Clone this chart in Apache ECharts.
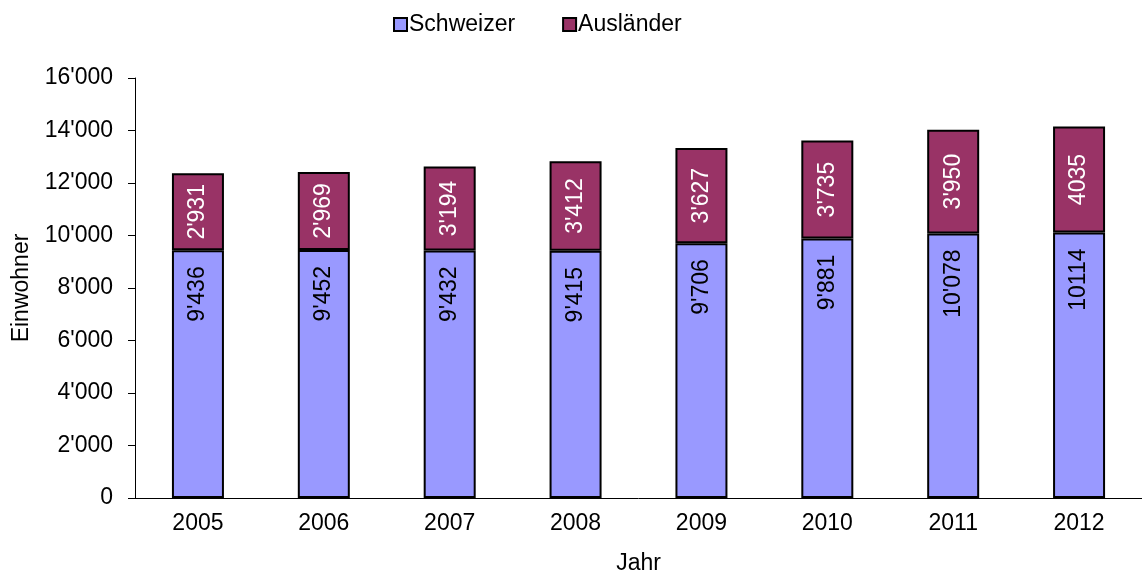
<!DOCTYPE html>
<html>
<head>
<meta charset="utf-8">
<script src="https://cdn.jsdelivr.net/npm/echarts@6/dist/echarts.min.js"></script>
<style>
  html, body { margin: 0; padding: 0; background: #fff; }
  #chart { width: 1142px; height: 577px; }
</style>
</head>
<body>
<div id="chart"></div>
<script>
// Einwohner nach Herkunft, 2005–2012
var years = ["2005", "2006", "2007", "2008", "2009", "2010", "2011", "2012"];
var schweizer = [9436, 9452, 9432, 9415, 9706, 9881, 10078, 10114];
var auslaender = [2931, 2969, 3194, 3412, 3627, 3735, 3950, 4035];
// labels as printed in the source (2012 has no thousands separator)
var schweizerLabels = ["9'436", "9'452", "9'432", "9'415", "9'706", "9'881", "10'078", "10114"];
var auslaenderLabels = ["2'931", "2'969", "3'194", "3'412", "3'627", "3'735", "3'950", "4035"];

var FONT = "Liberation Sans, Arial, sans-serif";
var FS = 23;

function fmt(v) {
  return String(v).replace(/\B(?=(\d{3})+(?!\d))/g, "'");
}

var chart = echarts.init(document.getElementById("chart"));
chart.setOption({
  animation: false,
  textStyle: { fontFamily: FONT },
  legend: {
    top: 8, left: 388, itemGap: 47,
    itemWidth: 13, itemHeight: 13,
    icon: "rect",
    textStyle: { fontSize: FS, color: "#000", fontFamily: FONT, padding: [0, 0, 0, -3] },
    data: ["Schweizer", "Ausländer"]
  },
  grid: { left: 135, right: 0, top: 78, bottom: 79, outerBoundsMode: "none" },
  xAxis: {
    type: "category", data: years,
    name: "Jahr", nameLocation: "middle", nameGap: 54,
    nameTextStyle: { fontSize: FS, color: "#000" },
    axisLine: { lineStyle: { color: "#000" } },
    axisTick: { length: 6, lineStyle: { color: "#000" } },
    axisLabel: { fontSize: FS, color: "#000", margin: 14 }
  },
  yAxis: {
    type: "value", min: 0, max: 16000, interval: 2000,
    name: "Einwohner", nameLocation: "middle", nameGap: 102,
    nameTextStyle: { fontSize: FS, color: "#000" },
    axisLine: { show: true, lineStyle: { color: "#000" } },
    axisTick: { show: true, length: 7, lineStyle: { color: "#000" } },
    splitLine: { show: false },
    axisLabel: { fontSize: FS, color: "#000", margin: 22, formatter: fmt }
  },
  series: [
    {
      name: "Schweizer", type: "bar", stack: "total", barWidth: 52,
      itemStyle: { color: "#9999FF", borderColor: "#000", borderWidth: 2 },
      label: {
        show: true, position: ["50%", 16], rotate: 90,
        align: "right", verticalAlign: "middle",
        fontSize: FS, color: "#000",
        formatter: function (p) { return schweizerLabels[p.dataIndex]; }
      },
      data: schweizer
    },
    {
      name: "Ausländer", type: "bar", stack: "total", barWidth: 52,
      itemStyle: { color: "#993366", borderColor: "#000", borderWidth: 2 },
      label: {
        show: true, position: "inside", rotate: 90, fontSize: FS, color: "#fff",
        formatter: function (p) { return auslaenderLabels[p.dataIndex]; }
      },
      data: auslaender
    }
  ]
});
</script>
</body>
</html>
